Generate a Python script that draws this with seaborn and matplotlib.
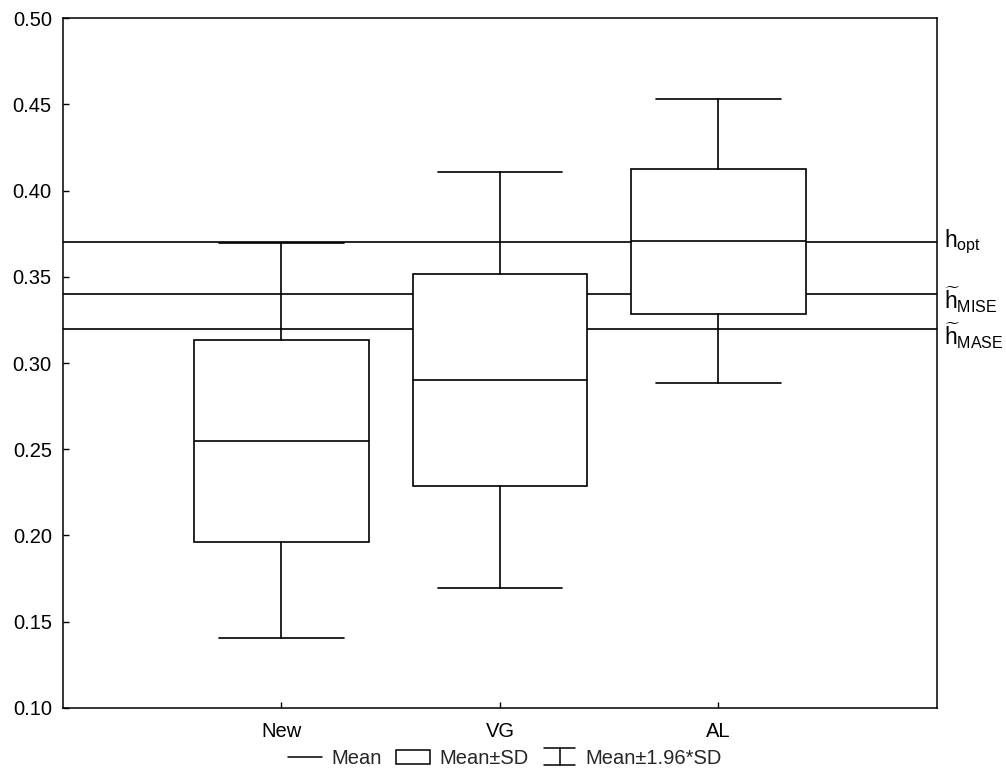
import matplotlib
matplotlib.use("Agg")
import matplotlib.pyplot as plt
import seaborn as sns
from matplotlib.lines import Line2D
from matplotlib.patches import Patch
from matplotlib.legend_handler import HandlerBase

# ---- data ----
categories = ["New", "VG", "AL"]
means = [0.255, 0.290, 0.3705]
sds = [0.0585, 0.0615, 0.0420]
ref_values = [0.370, 0.340, 0.320]
ref_labels = [r"$\mathregular{h_{opt}}$", r"$\widetilde{\mathregular{h}}_{\mathregular{MISE}}$",
              r"$\widetilde{\mathregular{h}}_{\mathregular{MASE}}$"]
y_ticks = [0.10, 0.15, 0.20, 0.25, 0.30, 0.35, 0.40, 0.45, 0.50]

sns.set_theme(style="ticks")
plt.rcParams["font.family"] = ["Liberation Sans", "DejaVu Sans"]
plt.rcParams["mathtext.fontset"] = "custom"
plt.rcParams["mathtext.rm"] = "Liberation Sans"
plt.rcParams["mathtext.it"] = "Liberation Sans"

FS = 14.5
fig = plt.figure(figsize=(10.06, 7.73), dpi=100)
ax = fig.add_axes([0.0626, 0.0841, 0.8688, 0.8926])

positions = list(range(1, len(categories) + 1))
stats = []
for c, m, s in zip(categories, means, sds):
    stats.append(dict(label=c, med=m, q1=m - s, q3=m + s,
                      whislo=m - 1.96 * s, whishi=m + 1.96 * s, fliers=[]))

lw = 1.2
for v in ref_values:
    ax.axhline(v, color="black", lw=lw, zorder=1)

ax.bxp(stats, positions=positions, widths=0.8, patch_artist=True,
       showfliers=False,
       boxprops=dict(facecolor="white", edgecolor="black", linewidth=lw),
       medianprops=dict(color="black", linewidth=lw),
       whiskerprops=dict(color="black", linewidth=lw),
       capprops=dict(color="black", linewidth=lw),
       capwidths=0.57, zorder=3)

ax.set_xlim(0, 4)
ax.set_ylim(0.10, 0.50)
ax.set_yticks(y_ticks)
ax.set_yticklabels([f"{t:.2f}" for t in y_ticks])
ax.set_xticks(positions)
ax.set_xticklabels(categories)
ax.tick_params(direction="in", length=4, width=1, colors="black", labelsize=FS,
               labelcolor="black")
ax.tick_params(axis="y", pad=8)
ax.tick_params(axis="x", pad=10)
for sp in ax.spines.values():
    sp.set_visible(True)
    sp.set_color("black")
    sp.set_linewidth(1.1)
ax.set_facecolor("white")

# right-hand labels of reference lines
offsets = [0.0, -0.003, -0.004]
for v, lab, o in zip(ref_values, ref_labels, offsets):
    ax.text(1.008, v + o, lab, transform=ax.get_yaxis_transform(),
            ha="left", va="center", fontsize=16.5, color="black")


class WhiskerHandler(HandlerBase):
    def create_artists(self, legend, orig_handle, xdescent, ydescent, width,
                       height, fontsize, trans):
        cx = width / 2 - xdescent
        y0 = -ydescent - 1
        y1 = height - ydescent + 1
        cw = width * 0.45
        arts = [Line2D([cx, cx], [y0, y1], color="black", lw=1.1),
                Line2D([cx - cw, cx + cw], [y0, y0], color="black", lw=1.1),
                Line2D([cx - cw, cx + cw], [y1, y1], color="black", lw=1.1)]
        for a in arts:
            a.set_transform(trans)
        return arts


whisker_handle = object()
handles = [Line2D([], [], color="black", lw=1.1),
           Patch(facecolor="white", edgecolor="black", linewidth=1.1),
           whisker_handle]
labels = ["Mean", "Mean\u00b1SD", "Mean\u00b11.96*SD"]
fig.legend(handles, labels, loc="center", bbox_to_anchor=(0.502, 0.019),
           ncol=3, frameon=False, fontsize=FS, handlelength=1.7,
           handletextpad=0.45, columnspacing=0.7, borderpad=0.1,
           handler_map={whisker_handle: WhiskerHandler()})

fig.savefig("out.png", dpi=100, facecolor="white")
